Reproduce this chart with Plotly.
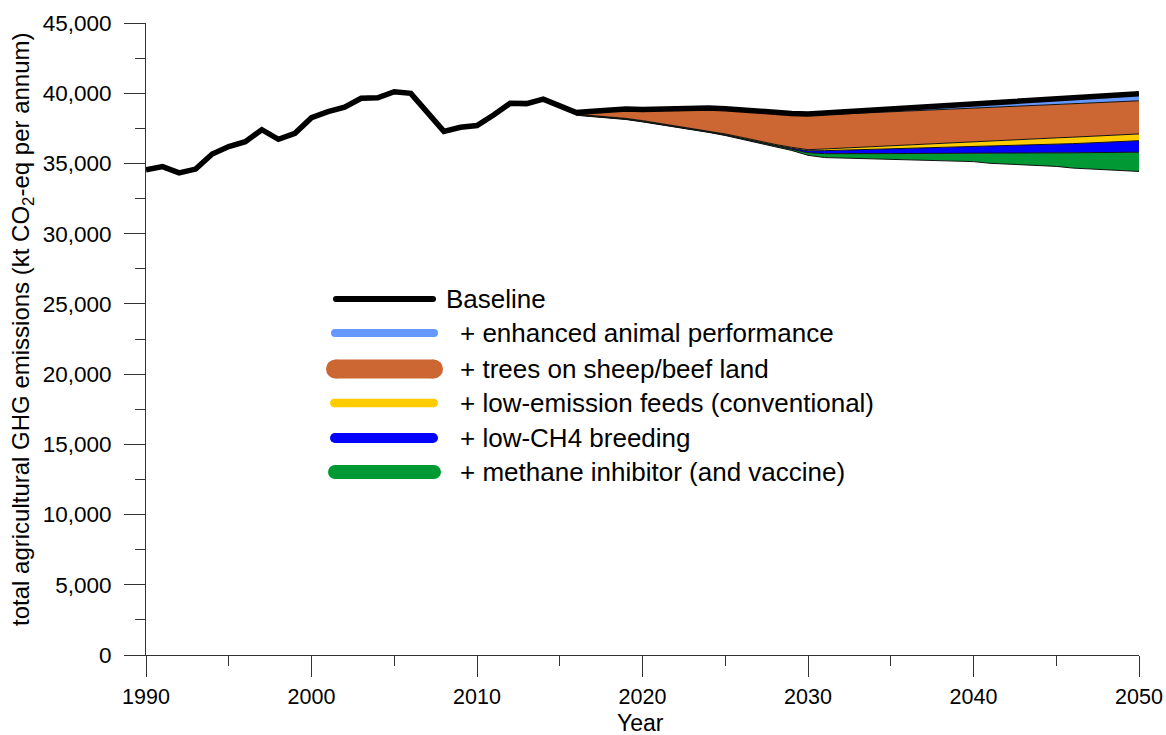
import plotly.graph_objects as go

# ---------------- data ----------------
years = list(range(1990, 2051))
baseline = [34550, 34770, 34330, 34600, 35670, 36200, 36550, 37400, 36720, 37150,
            38260, 38690, 39000, 39640, 39680, 40110, 39990, 38650, 37280, 37580,
            37700, 38450, 39280, 39260, 39580, 39100, 38620, 38720, 38840, 38880,
            38840, 38880, 38920, 38960, 38940, 38900, 38840, 38740, 38650, 38560,
            38520, 38590, 38660, 38740, 38810, 38880, 38950, 39020, 39090, 39170,
            39240, 39310, 39380, 39450, 39530, 39600, 39670, 39740, 39810, 39890,
            39960]

proj_years = list(range(2016, 2051))
enhanced = [38560, 38640, 38750, 38790, 38750, 38790, 38830, 38870, 38850, 38810,
            38750, 38650, 38560, 38470, 38420, 38470, 38520, 38580, 38630, 38680,
            38730, 38790, 38840, 38890, 38950, 39000, 39050, 39100, 39160, 39210,
            39260, 39310, 39360, 39410, 39460]
trees = [38500, 38400, 38330, 38210, 38050, 37870, 37690, 37500, 37310, 37100,
         36860, 36600, 36360, 36150, 35980, 36030, 36090, 36140, 36200, 36250,
         36310, 36370, 36420, 36480, 36540, 36590, 36650, 36700, 36760, 36820,
         36870, 36930, 36990, 37040, 37100]
feeds = [38470, 38360, 38290, 38170, 38000, 37820, 37640, 37450, 37260, 37050,
         36800, 36540, 36300, 36090, 35900, 35910, 35940, 35970, 36000, 36030,
         36060, 36090, 36120, 36150, 36190, 36220, 36250, 36290, 36330, 36370,
         36410, 36460, 36510, 36560, 36620]
breeding = [38450, 38340, 38270, 38150, 37980, 37800, 37620, 37430, 37240, 37020,
            36770, 36500, 36240, 36010, 35760, 35700, 35690, 35690, 35700, 35700,
            35710, 35710, 35720, 35720, 35730, 35730, 35740, 35740, 35750, 35750,
            35760, 35770, 35780, 35790, 35800]
inhibitor = [38430, 38320, 38250, 38130, 37960, 37780, 37600, 37410, 37210, 36990,
             36740, 36460, 36190, 35930, 35580, 35420, 35390, 35370, 35350, 35320,
             35280, 35250, 35220, 35190, 35130, 35010, 34950, 34900, 34850, 34790,
             34670, 34610, 34560, 34500, 34430]

series_names = ["Baseline", "+ enhanced animal performance", "+ trees on sheep/beef land",
                "+ low-emission feeds (conventional)", "+ low-CH4 breeding",
                "+ methane inhibitor (and vaccine)"]
colors = ["#000000", "#6699FF", "#CC6633", "#FFCC00", "#0000FF", "#009933"]

FONT = "Arial, Liberation Sans, sans-serif"

fig = go.Figure()

# projection baseline (fill reference)
baseline_proj = baseline[years.index(2016):]
fig.add_trace(go.Scatter(x=proj_years, y=baseline_proj, mode="lines",
                         line=dict(color="black", width=1), showlegend=False,
                         hoverinfo="skip"))
for vals, col, nm in zip([enhanced, trees, feeds, breeding, inhibitor], colors[1:], series_names[1:]):
    fig.add_trace(go.Scatter(x=proj_years, y=vals, mode="lines", fill="tonexty",
                             fillcolor=col, line=dict(color="#111111", width=1),
                             name=nm, showlegend=False))

fig.add_trace(go.Scatter(x=years, y=baseline, mode="lines",
                         line=dict(color="black", width=5.5), name="Baseline",
                         showlegend=False))

# ---------------- layout ----------------
OFF = 0  # page body margin removed via post_script
L, R, T, B = 146, 1139, 23, 655   # plot area in window pixels
W, H = 1166 - OFF, 735 - OFF


def px2x(p):
    return (p - L) / (R - L)


def py2y(p):
    return (B - p) / (B - T)


shapes = []
annotations = []
legend_items = [
    # (x_left, x_right, y, thickness, text_x)
    (333, 436, 299, 6, 444),
    (331, 438, 333, 8, 458),
    (326, 443, 369, 19, 458),
    (330, 438, 403, 8.5, 458),
    (330, 438, 438, 10, 458),
    (328, 441, 472, 14, 458),
]
for (xl, xr, yc, th, tx), col, nm in zip(legend_items, colors, series_names):
    r = th / 2
    ax, ay = px2x(xl), py2y(yc)
    shapes.append(dict(type="rect", xref="paper", yref="paper", xsizemode="pixel",
                       ysizemode="pixel", xanchor=ax, yanchor=ay,
                       x0=r, x1=(xr - xl) - r, y0=-r, y1=r,
                       fillcolor=col, line=dict(width=0)))
    for cx in (r, (xr - xl) - r):
        shapes.append(dict(type="circle", xref="paper", yref="paper", xsizemode="pixel",
                           ysizemode="pixel", xanchor=ax, yanchor=ay,
                           x0=cx - r, x1=cx + r, y0=-r, y1=r,
                           fillcolor=col, line=dict(width=0)))
    annotations.append(dict(x=px2x(tx), y=py2y(yc), xref="paper", yref="paper",
                            text=nm, showarrow=False, xanchor="left", yanchor="middle",
                            font=dict(family=FONT, size=26, color="black")))

annotations.append(dict(x=px2x(22), y=py2y(329), xref="paper", yref="paper",
                        text="total agricultural GHG emissions (kt CO<sub>2</sub>-eq per annum)",
                        textangle=-90, showarrow=False, xanchor="center", yanchor="middle",
                        font=dict(family=FONT, size=24, color="black")))
annotations.append(dict(x=px2x(640), y=py2y(723), xref="paper", yref="paper",
                        text="Year", showarrow=False, xanchor="center", yanchor="middle",
                        font=dict(family=FONT, size=23, color="black")))

fig.update_layout(
    template="none",
    width=W, height=H, autosize=False,
    margin=dict(l=L - OFF, r=W - (R - OFF), t=T - OFF, b=H - (B - OFF), pad=0,
                autoexpand=False),
    plot_bgcolor="white", paper_bgcolor="white",
    showlegend=False,
    shapes=shapes, annotations=annotations,
    font=dict(family=FONT, size=21, color="black"),
    xaxis=dict(range=[1990, 2050], showgrid=False, zeroline=False, automargin=False,
               showline=True, linecolor="#333333", linewidth=1,
               ticks="outside", ticklen=21, tickwidth=1, tickcolor="#333333",
               dtick=10, tick0=1990, ticklabelstandoff=1,
               tickfont=dict(family=FONT, size=21.5, color="black"),
               minor=dict(ticks="outside", ticklen=10, dtick=5, tickwidth=1,
                          tickcolor="#333333", showgrid=False)),
    yaxis=dict(range=[0, 45000], showgrid=False, zeroline=False, automargin=False,
               showline=True, linecolor="#333333", linewidth=1,
               ticks="outside", ticklen=21, tickwidth=1, tickcolor="#333333",
               dtick=5000, tick0=0, tickformat=",", ticklabelstandoff=8,
               tickfont=dict(family=FONT, size=22.5, color="black"),
               minor=dict(ticks="outside", ticklen=10, dtick=2500, tickwidth=1,
                          tickcolor="#333333", showgrid=False)),
)

fig.write_html(
    "out.html",
    config={"displayModeBar": False},
    post_script="document.body.style.margin='0';document.body.style.overflow='hidden';",
)
